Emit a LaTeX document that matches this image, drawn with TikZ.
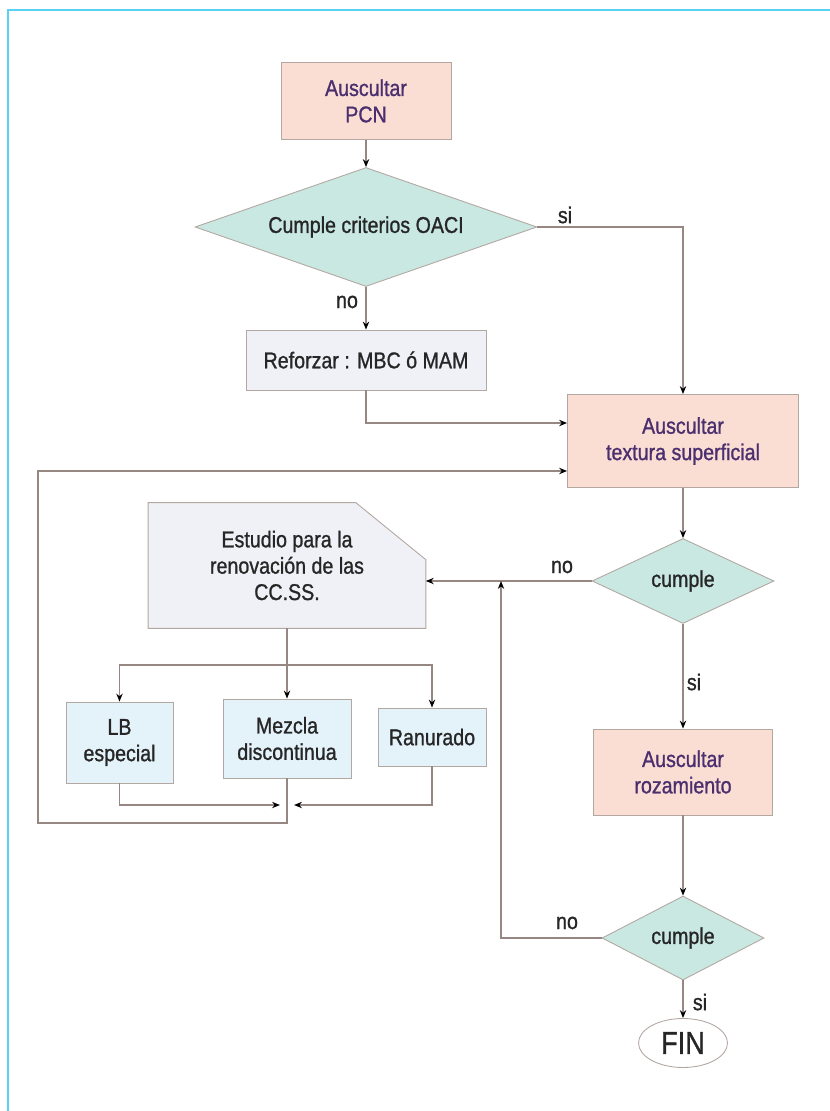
\documentclass[tikz,border=0pt]{standalone}
\usepackage{fontspec}
\setmainfont{Liberation Sans}[FakeStretch=0.86, FakeBold=1]
\usepackage{tikz}
\usetikzlibrary{arrows.meta,shapes.geometric}

\definecolor{marco}{HTML}{5AD2F5}
\definecolor{borde}{HTML}{B3A7A2}
\definecolor{linea}{HTML}{968782}
\definecolor{rosa}{HTML}{FADED4}
\definecolor{morado}{HTML}{4A2E6E}
\definecolor{verde}{HTML}{C8E8E1}
\definecolor{celeste}{HTML}{E4F2FA}
\definecolor{gris}{HTML}{F0F1F6}
\definecolor{tinta}{HTML}{262626}

\pgfdeclarelayer{fondo}
\pgfsetlayers{fondo,main}

\begin{document}
\begin{tikzpicture}[x=0.02cm, y=-0.02cm,
    texto/.style={font=\fontsize{13}{15}\selectfont, text=tinta},
    caja/.style={texto, draw=borde, line width=0.5pt, align=center, inner sep=2pt},
    auscultar/.style={caja, fill=rosa, text=morado},
    accion/.style={caja, fill=gris},
    opcion/.style={caja, fill=celeste},
    pregunta/.style={caja, diamond, fill=verde, inner sep=0pt, aspect=2},
    etiqueta/.style={texto, inner sep=0pt},
    conector/.style={draw=linea, line width=0.8pt},
    flecha/.style={conector, -{Stealth[length=4.5pt,width=3.6pt,color=black]}},
  ]
  \useasboundingbox (0,0) rectangle (830,1111);
  \draw[marco, line width=1.2pt] (8,1111) -- (8,10) -- (830,10);

  % upper part
  \node[auscultar, minimum width=3.4cm, minimum height=1.54cm] (pcn) at (366,101) {Auscultar\\PCN};
  \node[pregunta, minimum width=6.84cm, minimum height=2.24cm] (oaci) at (366,227) {Cumple criterios OACI};
  \node[accion, minimum width=4.8cm, minimum height=1.2cm] (refuerzo) at (366,360) {Reforzar : MBC ó MAM};
  \node[auscultar, minimum width=4.62cm, minimum height=1.86cm] (textura) at (683,441) {Auscultar\\textura superficial};

  % right column
  \node[pregunta, minimum width=3.64cm, minimum height=1.7cm] (cumple1) at (683,581) {cumple};
  \node[auscultar, minimum width=3.58cm, minimum height=1.72cm] (rozamiento) at (683,772) {Auscultar\\rozamiento};
  \node[pregunta, minimum width=3.24cm, minimum height=1.68cm] (cumple2) at (683,938) {cumple};
  \node[caja, ellipse, fill=white, minimum width=1.78cm, minimum height=0.98cm,
        font=\fontsize{18}{20}\selectfont] (fin) at (683,1043) {FIN};

  % left part
  \node[texto, align=center, minimum width=5.54cm, minimum height=2.5cm] (estudio) at (287,565.5)
    {Estudio para la\\renovación de las\\CC.SS.};
  \begin{pgfonlayer}{fondo}
    \draw[borde, fill=gris, line width=0.5pt] (estudio.south west) -- (estudio.north west)
      -- ([xshift=-1.4cm]estudio.north east) -- ([yshift=-1.14cm]estudio.north east)
      -- (estudio.south east) -- cycle;
  \end{pgfonlayer}
  \node[opcion, minimum width=2.14cm, minimum height=1.62cm] (lb) at (119.5,742.5) {LB\\especial};
  \node[opcion, minimum width=2.56cm, minimum height=1.58cm] (mezcla) at (287,738.5) {Mezcla\\discontinua};
  \node[opcion, minimum width=2.16cm, minimum height=1.16cm] (ranurado) at (432,737) {Ranurado};

  \coordinate (reparto) at (287,665);
  \coordinate (union) at (287,805);
  \coordinate (esquina) at (38,823);
  \coordinate (enlace) at (501,581);

  % connectors
  \draw[flecha] (pcn) -- (oaci);
  \draw[flecha] (oaci) -- (refuerzo);
  \draw[flecha] (oaci.east) -| (textura.north);
  \draw[flecha] (refuerzo.south) |- ([yshift=0.36cm]textura.west);
  \draw[flecha] (textura) -- (cumple1);
  \draw[flecha] (cumple1.west) -- (cumple1.west -| estudio.east);
  \draw[flecha] (cumple1) -- (rozamiento);
  \draw[flecha] (rozamiento) -- (cumple2);
  \draw[flecha] (cumple2.west) -| (enlace);
  \draw[flecha] (cumple2) -- (fin);

  \draw[conector] (estudio.south) -- (reparto);
  \draw[flecha] (reparto) -| (lb.north);
  \draw[flecha] (reparto) -- (mezcla.north);
  \draw[flecha] (reparto) -| (ranurado.north);
  \draw[flecha, shorten >=4pt] (lb.south) |- (union);
  \draw[flecha, shorten >=4pt] (ranurado.south) |- (union);
  \draw[flecha] (mezcla.south) |- (esquina) |- ([yshift=-0.6cm]textura.west);

  % labels
  \node[etiqueta] (si1) at (565,215) {si};
  \node[etiqueta] (no1) at (347,302) {no};
  \node[etiqueta] (no2) at (562,567) {no};
  \node[etiqueta] (si2) at (694,682) {si};
  \node[etiqueta] (no3) at (567,923) {no};
  \node[etiqueta] (si3) at (700,1002) {si};
\end{tikzpicture}
\end{document}
